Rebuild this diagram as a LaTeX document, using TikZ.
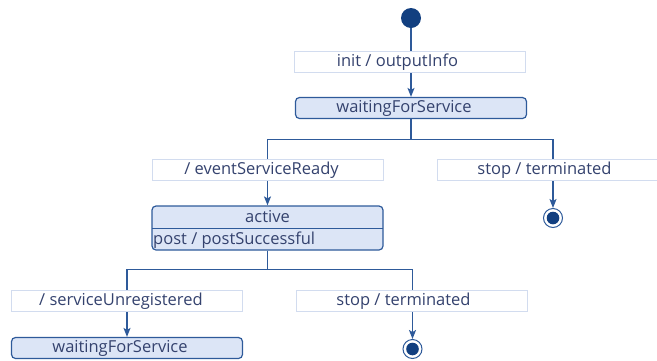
\documentclass[tikz,border=0pt]{standalone}
\usepackage{fontspec}
\setmainfont{Open Sans}
\usetikzlibrary{arrows.meta}
\definecolor{edgeblue}{HTML}{2E5A9A}
\definecolor{dotblue}{HTML}{123F80}
\definecolor{statefill}{HTML}{DCE5F6}
\definecolor{labelborder}{HTML}{D2DCEF}
\definecolor{textnavy}{HTML}{34426E}
\begin{document}
\begin{tikzpicture}[x=1pt,y=-1pt,
  font=\fontsize{16.5}{19}\selectfont,
  every node/.style={text=textnavy},
  statebox/.style={draw=edgeblue, line width=1.2pt, fill=statefill, rounded corners=4pt,
    minimum width=231pt, minimum height=21pt, inner sep=0pt},
  translabel/.style={draw=labelborder, line width=0.8pt, fill=white,
    minimum width=231pt, minimum height=21pt, inner sep=0pt},
  flow/.style={draw=edgeblue, line width=1.2pt},
  tip/.style={-{Stealth[length=9pt,width=7pt,inset=2pt]}},
  finalring/.style={circle, draw=edgeblue, line width=1pt, fill=white, minimum size=19pt, inner sep=0pt},
  initdot/.style={circle, fill=dotblue, minimum size=20pt, inner sep=0pt}
]
\useasboundingbox (0,0) rectangle (657,360);

% states and pseudo states
\node[initdot] (init) at (411,18) {};
\node[statebox] (w1) at (411,108) {\hspace*{-14pt}waitingForService};
\node[statebox, minimum height=44pt] (act) at (267.5,228) {};
\node (actname) at (267.5,217) {active};
\node[anchor=west, inner sep=0pt] (actdo) at (153,240) {post / postSuccessful};
\node[statebox] (w2) at (127,348) {\hspace*{-14pt}waitingForService};
\node[finalring] (fin1) at (553,218) {};
\node[finalring] (fin2) at (412.5,349) {};

% compartment divider of the active state
\coordinate (divl) at (152,228);
\coordinate (divr) at (383,228);
\draw[edgeblue, line width=1pt] (divl) -- (divr);

% transitions
\draw[flow, tip] (init) -- (w1);
\draw[flow, tip] (w1.south) -- ++(0,20) -| (act.north);
\draw[flow, tip] (w1.south) -- ++(0,20) -| (fin1.north);
\draw[flow, tip] (act.south) -- ++(0,19) -| (w2.north);
\draw[flow, tip] (act.south) -- ++(0,19) -| (fin2.north);

\fill[dotblue] (fin1.center) circle (6.3);
\fill[dotblue] (fin2.center) circle (6.3);

% transition labels
\node[translabel] (l1) at (409.5,62) {\hspace*{-24pt}init / outputInfo};
\node[translabel] (l2) at (267.5,170) {\hspace*{-12pt}/ eventServiceReady};
\node[translabel] (l3) at (552.5,170) {\hspace*{-16pt}stop / terminated};
\node[translabel] (l4) at (127,301) {\hspace*{-12pt}/ serviceUnregistered};
\node[translabel] (l5) at (411.5,301) {\hspace*{-16pt}stop / terminated};
\end{tikzpicture}
\end{document}
